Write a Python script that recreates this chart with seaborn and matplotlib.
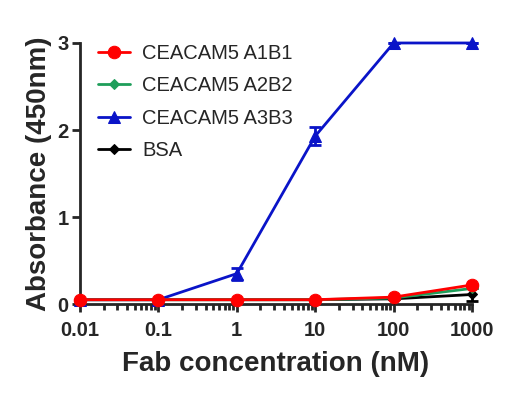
import numpy as np
import pandas as pd
import matplotlib
matplotlib.use("Agg")
import matplotlib.pyplot as plt
import seaborn as sns

# --- Daten ---
conc = [0.01, 0.1, 1, 10, 100, 1000]
a1b1 = [0.05, 0.05, 0.05, 0.05, 0.08, 0.22]
a2b2 = [0.05, 0.05, 0.05, 0.05, 0.07, 0.18]
a3b3 = [0.05, 0.05, 0.35, 1.93, 3.0, 3.0]
a3b3_err = [0.0, 0.0, 0.07, 0.1, 0.0, 0.0]
bsa = [0.05, 0.05, 0.05, 0.05, 0.06, 0.11]
bsa_err = [0.0, 0.0, 0.0, 0.0, 0.0, 0.08]

labels = ["CEACAM5 A1B1", "CEACAM5 A2B2", "CEACAM5 A3B3", "BSA"]
colors = ["#FF0000", "#1E9E5A", "#0A14C8", "#000000"]
markers = ["o", "D", "^", "D"]
msizes = [9, 5, 8, 5]

df = pd.concat([
    pd.DataFrame({"conc": conc, "abs": vals, "err": err, "sample": lab})
    for vals, err, lab in zip([a1b1, a2b2, a3b3, bsa],
                              [[0] * 6, [0] * 6, a3b3_err, bsa_err], labels)
])

sns.set_style("ticks")
plt.rcParams["font.family"] = ["Liberation Sans", "DejaVu Sans"]

fig = plt.figure(figsize=(5.06, 3.98), dpi=100)
ax = fig.add_axes([0.158, 0.236, 0.775, 0.656])

# BSA zuerst zeichnen, Rot liegt oben
for lab, col, mk, ms in list(zip(labels, colors, markers, msizes))[::-1]:
    sub = df[df["sample"] == lab]
    sns.lineplot(data=sub, x="conc", y="abs", color=col, marker=mk,
                 markersize=ms, markeredgecolor=col, linewidth=2,
                 ax=ax, label=lab, clip_on=False, zorder=3)
    ax.errorbar(sub["conc"], sub["abs"], yerr=sub["err"], fmt="none",
                ecolor=col, elinewidth=2, capsize=4, capthick=2,
                clip_on=False, zorder=3)

ax.set_xscale("log")
ax.set_xlim(0.01, 1000)
ax.set_ylim(0, 3)
ax.set_xticks(conc)
ax.set_xticklabels(["0.01", "0.1", "1", "10", "100", "1000"])
ax.set_yticks([0, 1, 2, 3])

for lbl in ax.get_xticklabels() + ax.get_yticklabels():
    lbl.set_fontweight("bold")
    lbl.set_fontsize(14.5)

ax.tick_params(axis="both", which="major", width=2, length=6, pad=2)
ax.tick_params(axis="x", which="major", pad=6)
ax.tick_params(axis="x", which="minor", width=2, length=4)
ax.spines[["top", "right"]].set_visible(False)
ax.spines[["left", "bottom"]].set_linewidth(2)

ax.set_xlabel("Fab concentration (nM)", fontsize=20, fontweight="bold", labelpad=8)
ax.set_ylabel("Absorbance (450nm)", fontsize=20, fontweight="bold", labelpad=4)

handles, lbls = ax.get_legend_handles_labels()
order = [lbls.index(l) for l in labels]
ax.legend([handles[i] for i in order], labels, loc="upper left",
          bbox_to_anchor=(0.0, 1.065), frameon=False, fontsize=14.5,
          handlelength=1.6, handletextpad=0.6, labelspacing=0.66)

fig.savefig("out.png", dpi=100)
